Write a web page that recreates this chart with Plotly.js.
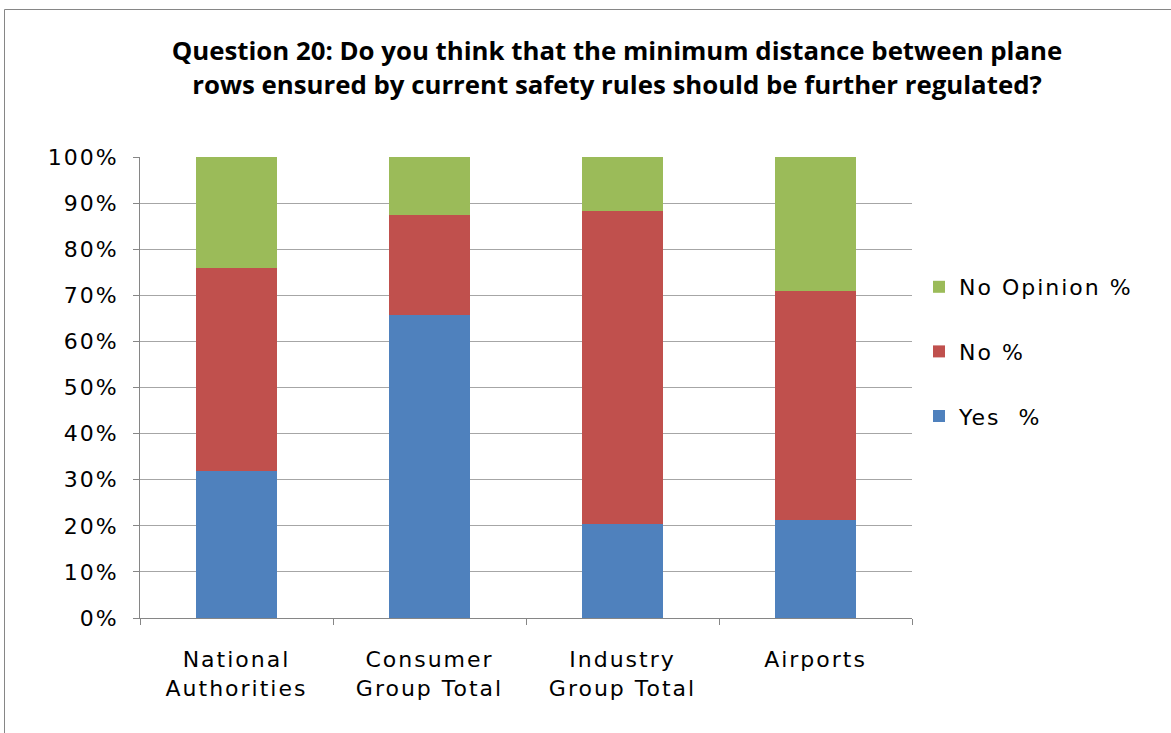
<!DOCTYPE html>
<html>
<head>
<meta charset="utf-8">
<script src="https://cdn.plot.ly/plotly-3.0.1.min.js"></script>
<style>
html,body{margin:0;padding:0;background:#fff;overflow:hidden}
g.xtick text, g.ytick text, text.legendtext { letter-spacing: 2px; }
</style>
</head>
<body>
<div id="chart" style="width:1171px;height:733px"></div>
<script>
const categories = ["National<br>Authorities", "Consumer<br>Group Total", "Industry<br>Group Total", "Airports"];
const yesPct = [31.8, 65.7, 20.5, 21.3];
const noPct = [44.2, 21.7, 67.8, 49.6];
const noOpinionPct = [24.0, 12.6, 11.7, 29.1];
const seriesNames = ["Yes  %", "No %", "No Opinion %"];
const seriesColors = ["#4F81BD", "#C0504D", "#9BBB59"];
const yTicks = [0,10,20,30,40,50,60,70,80,90,100];

const seriesData = [yesPct, noPct, noOpinionPct];
const traces = seriesData.map((vals, i) => ({
  type: "bar",
  name: seriesNames[i],
  x: categories,
  y: vals,
  marker: {color: seriesColors[i], line: {width: 0}},
  legendgroup: "g" + i,
  legendrank: 1000 - i,
  hoverinfo: "y+name"
}));

const ml = 140, mr = 1171 - 912, mt = 157, mb = 733 - 618;
const pw = 1171 - ml - mr, ph = 733 - mt - mb;

const layout = {
  width: 1171, height: 733,
  margin: {l: ml, r: mr, t: mt, b: mb, pad: 0},
  barmode: "stack",
  bargap: 0.585,
  paper_bgcolor: "#ffffff",
  plot_bgcolor: "#ffffff",
  font: {family: "DejaVu Sans, sans-serif", color: "#000000", size: 22},
  title: {
    text: "Question 20: Do you think that the minimum distance between plane<br>rows ensured by current safety rules should be further regulated?",
    font: {family: "Open Sans, sans-serif", size: 25.8, color: "#000000", weight: "bold"},
    x: 617/1171, xref: "container", xanchor: "center",
    y: 1 - 60/733, yanchor: "middle"
  },
  xaxis: {
    type: "category",
    showline: true, linecolor: "#868686", linewidth: 1,
    ticks: "outside", tickson: "boundaries", ticklen: 6, tickcolor: "#868686",
    showgrid: false,
    tickfont: {family: "DejaVu Sans, sans-serif", size: 22},
    ticklabelstandoff: 22,
    fixedrange: true
  },
  yaxis: {
    range: [0, 100],
    tickvals: yTicks,
    ticktext: yTicks.map(v => v + "%"),
    showline: true, linecolor: "#868686", linewidth: 1,
    ticks: "outside", ticklen: 6, tickcolor: "#868686",
    showgrid: true, gridcolor: "#a6a6a6", gridwidth: 1,
    zeroline: false,
    tickfont: {family: "DejaVu Sans, sans-serif", size: 22},
    ticklabelstandoff: 10,
    fixedrange: true
  },
  legend: {
    x: (919 - ml)/pw, xanchor: "left",
    y: (618 - 266)/ph, yanchor: "top",
    traceorder: "grouped",
    tracegroupgap: 33,
    font: {family: "DejaVu Sans, sans-serif", size: 22},
    bgcolor: "rgba(0,0,0,0)",
    itemwidth: 30
  },
  shapes: [{
    type: "rect", xref: "paper", yref: "paper",
    x0: (4.5 - ml)/pw, x1: (1180 - ml)/pw,
    y0: (618 - 745)/ph, y1: (618 - 9.5)/ph,
    line: {color: "#868686", width: 1}, fillcolor: "rgba(0,0,0,0)", layer: "below"
  }],
  showlegend: true
};

Plotly.newPlot("chart", traces, layout, {displayModeBar: false, staticPlot: true});
</script>
</body>
</html>
